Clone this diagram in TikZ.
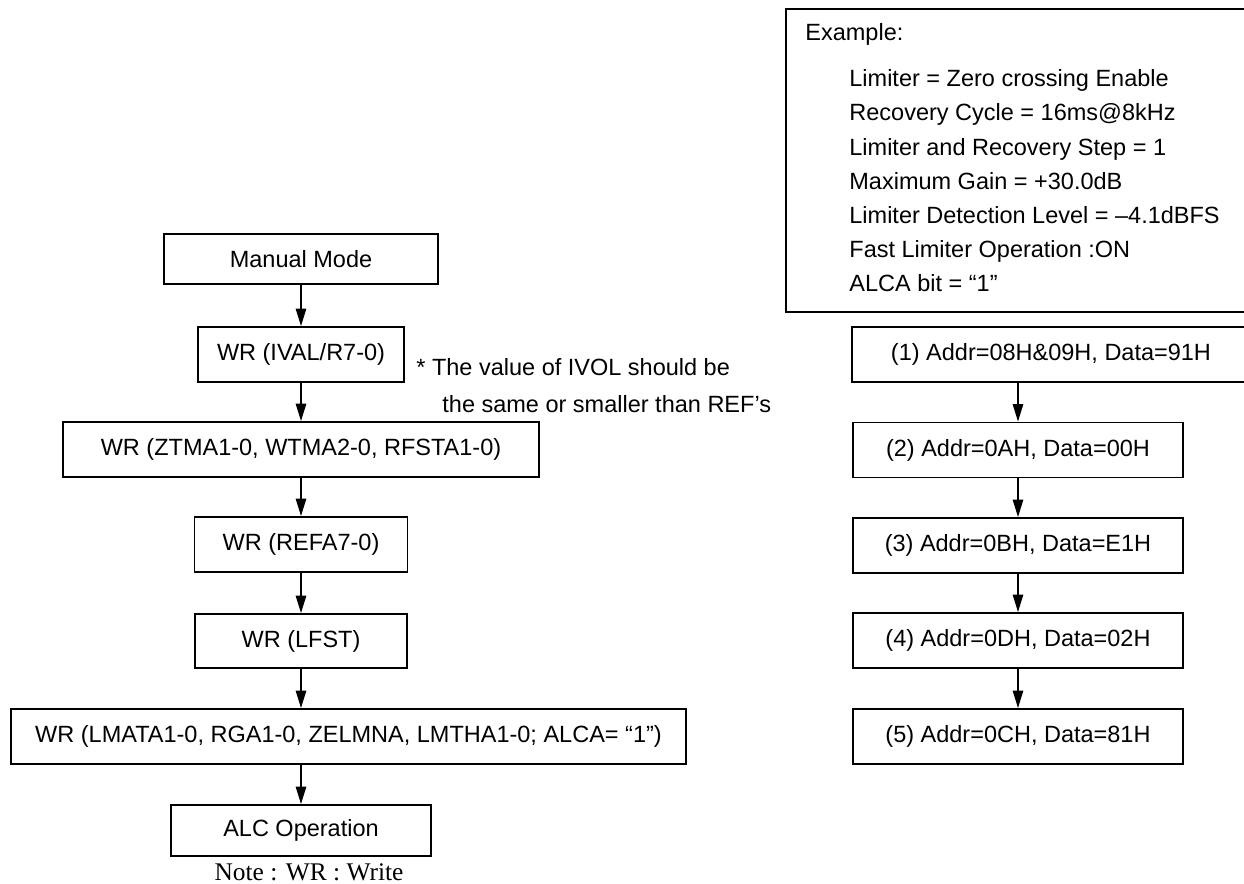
\documentclass[tikz,border=0pt]{standalone}
\usepackage{fontspec}
\setmainfont{Liberation Sans}
\newfontfamily\notefont{Liberation Serif}
\usetikzlibrary{arrows.meta}

\begin{document}
\begin{tikzpicture}[x=0.5pt,y=-0.5pt,
    box/.style={draw,line width=0.9pt,inner sep=0pt,minimum height=27.5pt,
                font=\fontsize{11.75}{14}\selectfont},
    txt/.style={inner sep=0pt,font=\fontsize{11.75}{14}\selectfont},
    arr/.style={line width=0.9pt,-{Triangle[length=8.8pt,width=5.2pt]}}
  ]
    \useasboundingbox (0,0) rectangle (1244,884);

    % left flow
    \node[box,minimum width=137pt,minimum height=25pt] (mm) at (301,259) {Manual Mode};
    \node[box,minimum width=103pt] (ival) at (301,354.5) {WR (IVAL/R7-0)};
    \node[box,minimum width=238pt] (ztma) at (301,449.5) {WR (ZTMA1-0, WTMA2-0, RFSTA1-0)};
    \node[box,minimum width=106.5pt] (refa) at (301,544.5) {WR (REFA7-0)};
    \node[box,minimum width=106pt,minimum height=27pt] (lfst) at (301,641) {WR (LFST)};
    \node[box,minimum width=337.5pt] (lmata) at (348.5,736.5)
      {WR (LMATA1-0, RGA1-0, ZELMNA, LMTHA1-0; ALCA= “1”)};
    \node[box,minimum width=130pt,minimum height=25.5pt] (alc) at (301,830.5) {ALC Operation};
    \node[inner sep=0pt,anchor=base,font=\notefont\fontsize{12.7}{15}\selectfont]
      (note) at (309,880) {Note : WR : Write};

    \node[txt,anchor=base west] (hint1) at (416,375) {* The value of IVOL should be};
    \node[txt,anchor=base west] (hint2) at (442,412) {the same or smaller than REF’s};

    \foreach \a/\b in {mm/ival,ival/ztma,ztma/refa,refa/lfst}
      \draw[arr] (\a) -- (\b);
    \draw[arr] (lfst) -- (lfst |- lmata.north);
    \draw[arr] (alc |- lmata.south) -- (alc);

    % right flow
    \node[box,minimum width=199pt] (s1) at (1051,354.5) {(1) Addr=08H\&09H, Data=91H};
    \node[box,minimum width=165pt] (s2) at (1018,450) {(2) Addr=0AH, Data=00H};
    \node[box,minimum width=165pt] (s3) at (1018,545.5) {(3) Addr=0BH, Data=E1H};
    \node[box,minimum width=165pt] (s4) at (1018,640.5) {(4) Addr=0DH, Data=02H};
    \node[box,minimum width=165pt] (s5) at (1018,736.5) {(5) Addr=0CH, Data=81H};

    \draw[arr] (s2 |- s1.south) -- (s2);
    \foreach \a/\b in {s2/s3,s3/s4,s4/s5}
      \draw[arr] (\a) -- (\b);

    % example settings
    \draw[line width=0.9pt] (786,9) rectangle (1270,312);
    \node[txt,anchor=base west] (exhead) at (805,40.4) {Example:};
    \foreach \t [count=\i] in {{Limiter = Zero crossing Enable},
        {Recovery Cycle = 16ms@8kHz},{Limiter and Recovery Step = 1},
        {Maximum Gain = +30.0dB},{Limiter Detection Level = –4.1dBFS},
        {Fast Limiter Operation :ON},{ALCA bit = “1”}}
      \node[txt,anchor=base west] (ex\i) at (849,52.4+34.2*\i) {\t};
\end{tikzpicture}
\end{document}
